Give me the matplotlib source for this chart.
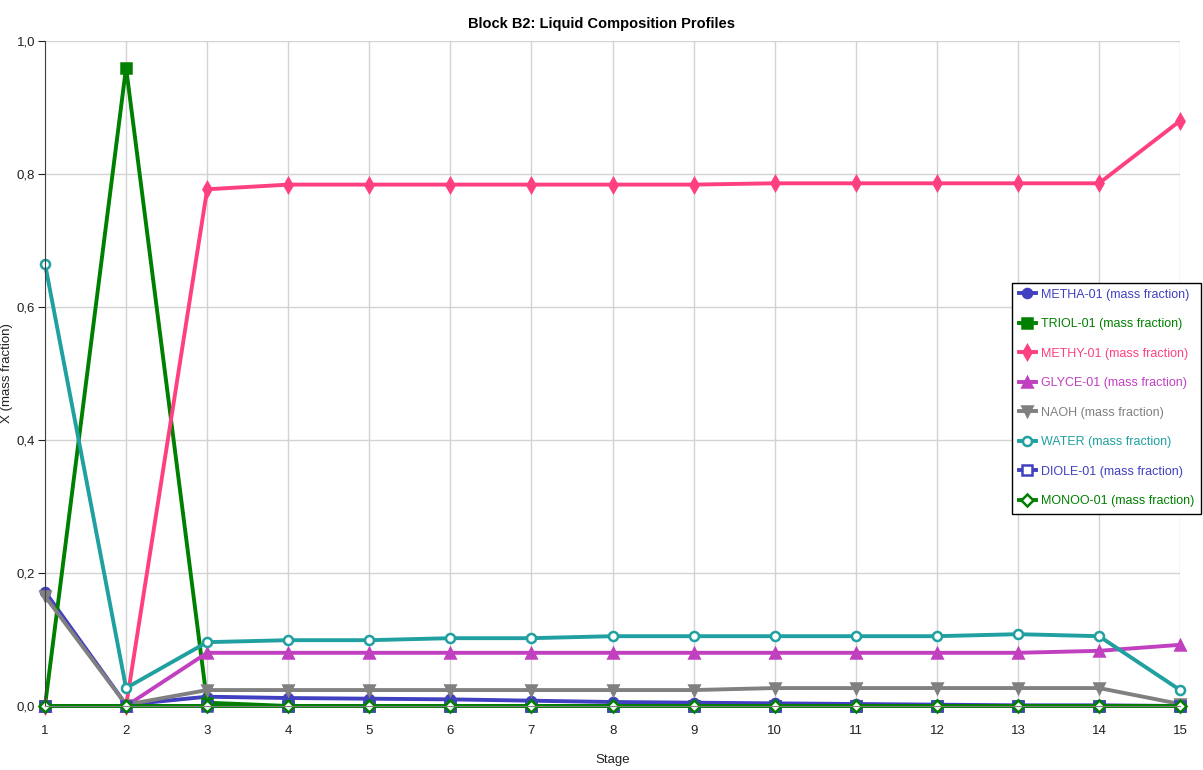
import matplotlib
matplotlib.use("Agg")
import matplotlib.pyplot as plt
from matplotlib.ticker import FuncFormatter

plt.rcParams['font.family'] = ['Liberation Sans', 'DejaVu Sans']

stages = list(range(1, 16))

metha = [0.172, 0.002, 0.014, 0.012, 0.011, 0.010, 0.008, 0.006, 0.005, 0.004, 0.003, 0.002, 0.001, 0.001, 0.0]
triol = [0.0, 0.960, 0.005, 0.0, 0.0, 0.0, 0.0, 0.0, 0.0, 0.0, 0.0, 0.0, 0.0, 0.0, 0.0]
methy = [0.0, 0.0, 0.777, 0.784, 0.784, 0.784, 0.784, 0.784, 0.784, 0.786, 0.786, 0.786, 0.786, 0.786, 0.880]
glyce = [0.0, 0.0, 0.080, 0.080, 0.080, 0.080, 0.080, 0.080, 0.080, 0.080, 0.080, 0.080, 0.080, 0.083, 0.092]
naoh = [0.165, 0.002, 0.024, 0.024, 0.024, 0.024, 0.024, 0.024, 0.024, 0.027, 0.027, 0.027, 0.027, 0.027, 0.003]
water = [0.665, 0.027, 0.096, 0.099, 0.099, 0.102, 0.102, 0.105, 0.105, 0.105, 0.105, 0.105, 0.108, 0.105, 0.024]
diole = [0.0] * 15
monoo = [0.0] * 15

series = [
    ("METHA-01 (mass fraction)", metha, "#4040c0", "o", True),
    ("TRIOL-01 (mass fraction)", triol, "#008000", "s", True),
    ("METHY-01 (mass fraction)", methy, "#ff4080", "d", True),
    ("GLYCE-01 (mass fraction)", glyce, "#c040c0", "^", True),
    ("NAOH (mass fraction)", naoh, "#808080", "v", True),
    ("WATER (mass fraction)", water, "#20a0a0", "o", False),
    ("DIOLE-01 (mass fraction)", diole, "#4040c0", "s", False),
    ("MONOO-01 (mass fraction)", monoo, "#008000", "D", False),
]

fig = plt.figure(figsize=(12.03, 7.70), dpi=100)
ax = fig.add_axes([0.0374, 0.0831, 0.9436, 0.8637])

handles = []
for name, vals, col, mk, filled in series:
    face = col if filled else "white"
    ms = 7 if mk in ("d", "^", "v", "s") else 6.5
    ln, = ax.plot(stages, vals, color=col, lw=2.8, marker=mk, markersize=ms,
                  markerfacecolor=face, markeredgecolor=col, markeredgewidth=1.8,
                  clip_on=False, label=name)
    handles.append(ln)

ax.set_xlim(1, 15)
ax.set_ylim(0, 1.0)
ax.set_xticks(stages)
ax.set_yticks([0, 0.2, 0.4, 0.6, 0.8, 1.0])
ax.yaxis.set_major_formatter(FuncFormatter(lambda v, p: f"{v:.1f}".replace(".", ",")))
ax.grid(True, color="#d3d3d3", lw=1)
ax.set_axisbelow(True)
for s in ["top", "right"]:
    ax.spines[s].set_visible(False)
ax.spines["left"].set_color("#404040")
ax.spines["bottom"].set_color("#808080")
ax.tick_params(axis="y", length=5, pad=2, color="#202020", labelsize=9.5, labelcolor="#202020")
ax.tick_params(axis="x", length=0, pad=14, labelsize=9.5, labelcolor="#202020")

ax.set_xlabel("Stage", fontsize=9.5, labelpad=12, color="#202020")
ax.set_ylabel("X (mass fraction)", fontsize=9.5, labelpad=3, color="#202020")
fig.suptitle("Block B2: Liquid Composition Profiles", fontsize=10.5, fontweight="bold", y=0.978)

leg = ax.legend(handles=handles, loc="upper right", bbox_to_anchor=(0.998, 0.633),
                bbox_transform=fig.transFigure, fontsize=9, frameon=True, fancybox=False,
                edgecolor="black", framealpha=1, borderpad=0.5, labelspacing=1.4,
                handlelength=1.4, handletextpad=0.4, borderaxespad=0)
leg.get_frame().set_linewidth(1)
for txt, (_, _, col, _, _) in zip(leg.get_texts(), series):
    txt.set_color(col)

fig.savefig("out.png", dpi=100)
